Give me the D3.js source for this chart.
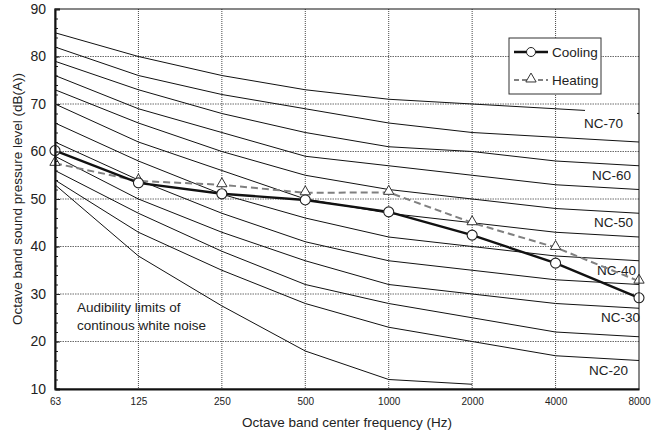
<!DOCTYPE html>
<html><head><meta charset="utf-8">
<script src="https://cdn.jsdelivr.net/npm/d3@7/dist/d3.min.js"></script>
<style>body{margin:0;background:#fff}svg{display:block;font-family:"Liberation Sans",Arial,sans-serif}</style>
</head><body><svg id="c" width="667" height="434"></svg>
<script>
const frequencies = ["63","125","250","500","1000","2000","4000","8000"];
const yTicks = [10,20,30,40,50,60,70,80,90];
const ncNames = ["NC-70","NC-65","NC-60","NC-55","NC-50","NC-45","NC-40","NC-35","NC-30","NC-25","NC-20"];
const nc70 = [85,80,76,73,71,70,69,68];
const nc65 = [82,76,72,69,66,64,63,62];
const nc60 = [79,73,68,64,61,60,58,57];
const nc55 = [76,69,64,59,57,55,53,52];
const nc50 = [73,66,60,55,52,50,48,47];
const nc45 = [70,62,56,50,47,45,43,42];
const nc40 = [66,58,51,46,42,40,38,37];
const nc35 = [62,54,47,41,37,35,33,32];
const nc30 = [59,50,43,37,32,30,28,27];
const nc25 = [56,47,39,32,28,25,22,21];
const nc20 = [54,43,35,28,23,20,17,16];
const threshold = [53,38,27.5,18,12,11];
const cooling = [60.2,53.4,51.1,49.8,47.3,42.4,36.5,29.2];
const heating = [57.5,53.8,53.0,51.3,51.4,45.0,39.8,32.7];
const labelledCurves = ["NC-70","NC-60","NC-50","NC-40","NC-30","NC-20"];
const seriesNames = ["Cooling","Heating"];
const thresholdText = ["Audibility limits of","continous white noise"];

const ncValues = [nc70,nc65,nc60,nc55,nc50,nc45,nc40,nc35,nc30,nc25,nc20];

const svg = d3.select("#c");
const L = 55, R = 639, T = 9, B = 389;
const x = d3.scalePoint().domain(frequencies).range([L, R]);
const y = d3.scaleLinear().domain([10, 90]).range([B, T]);
const font = '"Liberation Sans",Arial,sans-serif';

// gridlines
const g = svg.append("g");
g.selectAll(".hg").data(yTicks.slice(1, -1)).join("line")
  .attr("x1", L).attr("x2", R).attr("y1", d => y(d)).attr("y2", d => y(d))
  .attr("stroke", "#6a6a6a").attr("stroke-width", 1).attr("stroke-dasharray", "1.5,1");
g.selectAll(".vg").data(frequencies.slice(1, -1)).join("line")
  .attr("y1", T).attr("y2", B).attr("x1", d => x(d)).attr("x2", d => x(d))
  .attr("stroke", "#333").attr("stroke-width", 0.9).attr("stroke-dasharray", "1,1");

const line = d3.line().x((d, i) => x(frequencies[i])).y(d => y(d));

// NC curves
svg.append("g").selectAll("path").data(ncValues).join("path")
  .attr("d", d => line(d)).attr("fill", "none").attr("stroke", "#111").attr("stroke-width", 1);
svg.append("path").attr("d", line(threshold)).attr("fill", "none").attr("stroke", "#111").attr("stroke-width", 1);

// NC labels
const labelDx = {"NC-70": -16, "NC-60": -8, "NC-50": -6, "NC-40": -3, "NC-30": 1, "NC-20": -11};
const lab = svg.append("g");
labelledCurves.forEach(name => {
  const vals = ncValues[ncNames.indexOf(name)];
  const yy = y(vals[vals.length - 1]);
  if (name === "NC-70") {
    lab.append("rect").attr("x", R - 54).attr("y", yy - 4).attr("width", 52).attr("height", 24).attr("fill", "#fff");
  }
  lab.append("text").attr("x", R + labelDx[name]).attr("y", yy + 14)
    .attr("text-anchor", "end").attr("font-size", 13.5).attr("fill", "#222").text(name);
});

// threshold label
svg.append("g").selectAll("text").data(thresholdText).join("text")
  .attr("x", 77).attr("y", (d, i) => 311.5 + i * 18.5)
  .attr("font-size", 13.5).attr("fill", "#222").text(d => d);

// series
const hLine = svg.append("path").attr("d", line(heating)).attr("fill", "none")
  .attr("stroke", "#808080").attr("stroke-width", 2).attr("stroke-dasharray", "7,4");
svg.append("path").attr("d", line(cooling)).attr("fill", "none")
  .attr("stroke", "#111").attr("stroke-width", 2.4);

const tri = d3.symbol().type(d3.symbolTriangle).size(46);
svg.append("g").selectAll("path").data(heating).join("path")
  .attr("transform", (d, i) => `translate(${x(frequencies[i])},${y(d) - 1})`)
  .attr("d", tri).attr("fill", "#fff").attr("stroke", "#333").attr("stroke-width", 1);
svg.append("g").selectAll("circle").data(cooling).join("circle")
  .attr("cx", (d, i) => x(frequencies[i])).attr("cy", d => y(d)).attr("r", 5)
  .attr("fill", "#fff").attr("stroke", "#222").attr("stroke-width", 1.1);

// frame
svg.append("rect").attr("x", L).attr("y", T).attr("width", R - L).attr("height", B - T)
  .attr("fill", "none").attr("stroke", "#111").attr("stroke-width", 1);

// axes
const yMinor = d3.range(10, 91, 2);
svg.append("g").attr("transform", `translate(${L},0)`)
  .call(d3.axisLeft(y).tickValues(yMinor).tickSize(-3).tickFormat(""))
  .call(a => a.select(".domain").remove())
  .call(a => a.selectAll("line").attr("stroke", "#222"));
const ya = svg.append("g").attr("transform", `translate(${L},0)`)
  .call(d3.axisLeft(y).tickValues(yTicks).tickSize(-5).tickPadding(9));
ya.select(".domain").attr("stroke", "#111").attr("stroke-width", 2);
ya.selectAll("line").attr("stroke", "#222");
ya.selectAll("text").attr("font-size", 14).attr("fill", "#222").attr("font-family", font);

const xa = svg.append("g").attr("transform", `translate(0,${B})`)
  .call(d3.axisBottom(x).tickSize(0).tickPadding(9));
xa.select(".domain").attr("stroke", "#111").attr("stroke-width", 2);
xa.selectAll("text").attr("font-size", 10).attr("fill", "#222").attr("font-family", font);

// titles
svg.append("text").attr("x", (L + R) / 2).attr("y", 427).attr("text-anchor", "middle")
  .attr("font-size", 13.5).attr("fill", "#222").text("Octave band center frequency (Hz)");
svg.append("text").attr("transform", `translate(22,${(T + B) / 2}) rotate(-90)`).attr("text-anchor", "middle")
  .attr("font-size", 13.5).attr("fill", "#222").text("Octave band sound pressure level (dB(A))");

// legend
const lg = svg.append("g");
lg.append("rect").attr("x", 509).attr("y", 38).attr("width", 92).attr("height", 56)
  .attr("fill", "#fff").attr("stroke", "#333").attr("stroke-width", 1);
lg.append("line").attr("x1", 514).attr("x2", 548).attr("y1", 52).attr("y2", 52)
  .attr("stroke", "#111").attr("stroke-width", 2.4);
lg.append("circle").attr("cx", 531).attr("cy", 52).attr("r", 4.5).attr("fill", "#fff").attr("stroke", "#222");
lg.append("line").attr("x1", 514).attr("x2", 548).attr("y1", 80).attr("y2", 80)
  .attr("stroke", "#808080").attr("stroke-width", 2).attr("stroke-dasharray", "5,3");
lg.append("path").attr("transform", "translate(531,79)").attr("d", tri).attr("fill", "#fff").attr("stroke", "#333");
lg.selectAll(".lt").data(seriesNames).join("text")
  .attr("x", 552).attr("y", (d, i) => 57 + i * 28).attr("font-size", 13.5).attr("fill", "#222").text(d => d);
</script></body></html>
